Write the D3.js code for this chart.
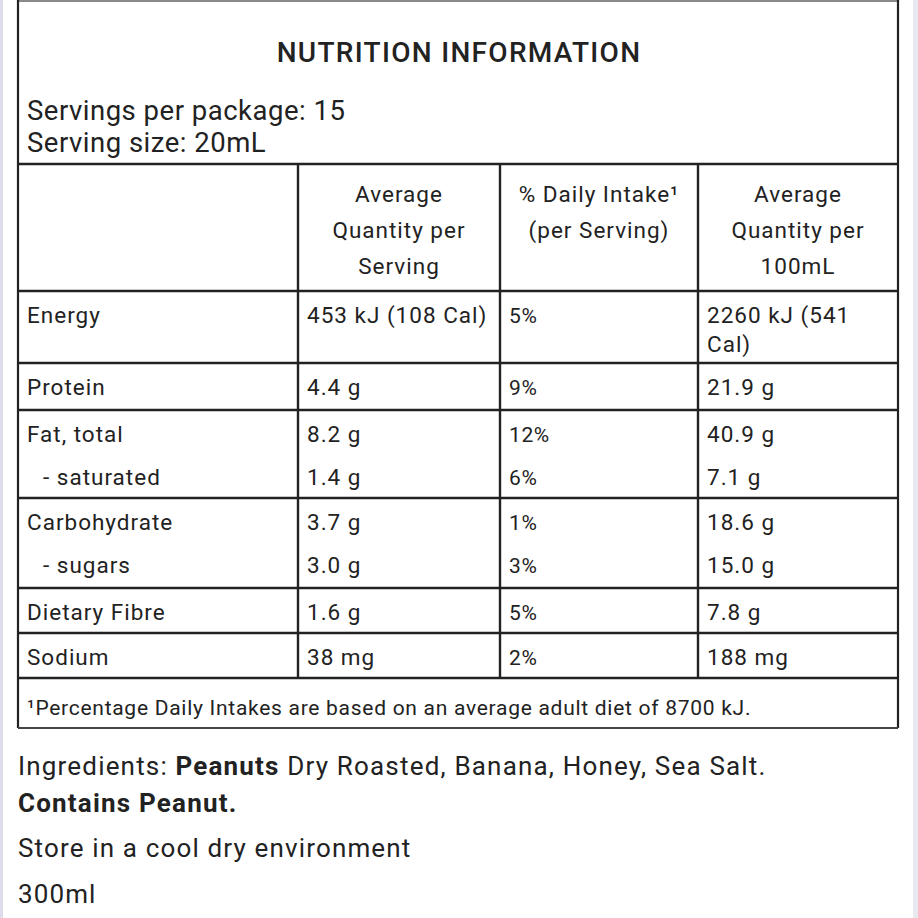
<!DOCTYPE html>
<html><head><meta charset="utf-8">
<script src="https://cdn.jsdelivr.net/npm/d3@7"></script>
<style>html,body{margin:0;padding:0;background:#fff;}svg{display:block;}</style>
</head><body>
<script>
// ---- data ----
const title = "NUTRITION INFORMATION";
const servingInfo = ["Servings per package: 15", "Serving size: 20mL"];
const columnHeaders = [[], ["Average", "Quantity per", "Serving"], ["% Daily Intake¹", "(per Serving)"], ["Average", "Quantity per", "100mL"]];
const nutrients = ["Energy", "Protein", "Fat, total", "- saturated", "Carbohydrate", "- sugars", "Dietary Fibre", "Sodium"];
const perServing = ["453 kJ (108 Cal)", "4.4 g", "8.2 g", "1.4 g", "3.7 g", "3.0 g", "1.6 g", "38 mg"];
const dailyIntake = ["5%", "9%", "12%", "6%", "1%", "3%", "5%", "2%"];
const per100 = [["2260 kJ (541", "Cal)"], ["21.9 g"], ["40.9 g"], ["7.1 g"], ["18.6 g"], ["15.0 g"], ["7.8 g"], ["188 mg"]];
const rowGroups = [[0], [1], [2, 3], [4, 5], [6], [7]];
const footnote = "¹Percentage Daily Intakes are based on an average adult diet of 8700 kJ.";
const ingredientsPre = "Ingredients: ", ingredientsBold = "Peanuts", ingredientsPost = " Dry Roasted, Banana, Honey, Sea Salt.";
const allergen = "Contains Peanut.";
const storage = "Store in a cool dry environment";
const volume = "300ml";

// ---- layout ----
const W = 918, H = 918;
const svg = d3.select("body").append("svg").attr("width", W).attr("height", H);
const ink = "#222222";
const font = "Roboto, 'Noto Sans', sans-serif";

svg.append("rect").attr("x", 0).attr("y", 0).attr("width", 3).attr("height", H).attr("fill", "#dcdcea");
svg.append("rect").attr("x", 913).attr("y", 0).attr("width", 5).attr("height", H).attr("fill", "#e8e8ef");

const colEdges = [18, 298, 500, 698, 898];
const x = d3.scaleOrdinal().domain([0, 1, 2, 3]).range(colEdges.slice(0, 4));
const headerTop = 164, headerBottom = 291;
const groupBottoms = [363, 410, 498, 588, 633, 678];
const footBottom = 728;
const groupTop = i => i === 0 ? headerBottom : groupBottoms[i - 1];
const lineY = d3.scaleLinear().domain([0, 1]).range([32, 75]);

const g = svg.append("g");
const line = (x1, y1, x2, y2, w, c) => g.append("line").attr("x1", x1).attr("y1", y1).attr("x2", x2).attr("y2", y2)
  .attr("stroke", c || ink).attr("stroke-width", w || 2);

line(18, 1, 898, 1, 2, "#8a8a8a");
line(18, 0, 18, footBottom, 2.2);
line(898, 0, 898, footBottom, 2.2);
[headerTop, headerBottom, ...groupBottoms].forEach(y => line(18, y, 898, y, 2.4));
line(18, footBottom, 898, footBottom, 2, "#444");
[1, 2, 3].forEach(c => line(x(c), headerTop, x(c), groupBottoms[groupBottoms.length - 1], 2.4));

const text = (s, xx, yy, size, opts = {}) => g.append("text").attr("x", xx).attr("y", yy)
  .attr("font-family", font).attr("font-size", size).attr("fill", opts.fill || ink)
  .attr("letter-spacing", opts.ls || 0)
  .attr("font-weight", opts.weight || 400).attr("text-anchor", opts.anchor || "start").text(s);

text(title, 459, 62, 28, { anchor: "middle", weight: 500, ls: 1.3 });
servingInfo.forEach((s, i) => text(s, 27, 120 + i * 32, 27.5, { ls: 0.5 }));

const T = 22.5, TL = 1.0;
columnHeaders.forEach((lines, c) => {
  const cx = (colEdges[c] + colEdges[c + 1]) / 2;
  lines.forEach((s, i) => text(s, cx, 202 + i * 36, T, { anchor: "middle", ls: TL }));
});

const pad = 9;
rowGroups.forEach((rows, gi) => {
  const top = groupTop(gi);
  rows.forEach((r, li) => {
    const y = top + lineY(li);
    const indent = nutrients[r].startsWith("-") ? 16 : 0;
    text(nutrients[r], x(0) + pad + indent, y, T, { ls: TL });
    text(perServing[r], x(1) + pad, y, T, { ls: TL });
    text(dailyIntake[r], x(2) + pad, y, 21, { ls: 0.6 });
    per100[r].forEach((s, k) => text(s, x(3) + pad, y + k * 29, T, { ls: TL }));
  });
});

text(footnote, 27, 715, 21, { ls: 0.72 });

const ing = g.append("text").attr("x", 18).attr("y", 775).attr("font-family", font).attr("font-size", 26)
  .attr("letter-spacing", 1.18).attr("fill", ink);
ing.append("tspan").text(ingredientsPre);
ing.append("tspan").attr("font-weight", 700).text(ingredientsBold);
ing.append("tspan").text(ingredientsPost);
text(allergen, 18, 812, 26, { weight: 700, ls: 1.2 });
text(storage, 18, 857, 26, { ls: 1.15 });
text(volume, 18, 903, 26, { ls: 1.1 });
</script>
</body></html>
